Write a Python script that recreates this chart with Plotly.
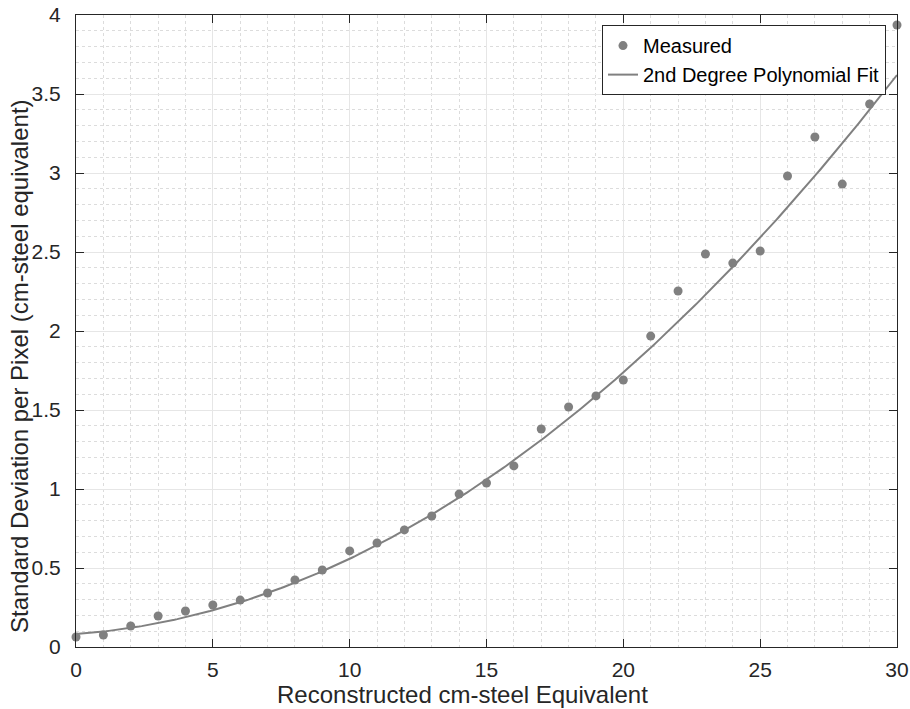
import numpy as np
import plotly.graph_objects as go

x_measured = list(range(0, 31))
y_measured = [0.063, 0.076, 0.133, 0.196, 0.228, 0.266, 0.297, 0.342, 0.424, 0.487,
              0.608, 0.658, 0.741, 0.829, 0.968, 1.038, 1.146, 1.380, 1.519, 1.589,
              1.690, 1.968, 2.253, 2.487, 2.430, 2.506, 2.981, 3.228, 2.930, 3.437, 3.937]

# 2nd degree polynomial fit coefficients (a*x^2 + b*x + c), as shown in the figure
fit_coefs = [0.003516, 0.01246, 0.082]
x_fit = np.linspace(0, 30, 301)
y_fit = np.polyval(fit_coefs, x_fit)

x_title = "Reconstructed cm-steel Equivalent"
y_title = "Standard Deviation per Pixel (cm-steel equivalent)"

FONT = "Liberation Sans, Arial, Helvetica, sans-serif"
gray = "#808080"
dark = "#262626"

fig = go.Figure()
fig.add_trace(go.Scatter(x=x_measured, y=y_measured, mode="markers", name="Measured",
                         marker=dict(color=gray, size=9), cliponaxis=False))
fig.add_trace(go.Scatter(x=x_fit, y=y_fit, mode="lines", name="2nd Degree Polynomial Fit",
                         line=dict(color=gray, width=2)))

axis_common = dict(
    showline=True, linecolor=dark, linewidth=1, mirror="ticks",
    ticks="inside", ticklen=8, tickcolor=dark,
    showgrid=True, gridcolor="#e6e6e6", gridwidth=1,
    zeroline=False, automargin=False,
    tickfont=dict(family=FONT, size=21, color=dark),
)

fig.update_xaxes(range=[0, 30], dtick=5, tick0=0, ticklabelstandoff=4,
                 minor=dict(dtick=1, showgrid=True, gridcolor="#dcdcdc", griddash="dot", ticks=""),
                 **axis_common)
fig.update_yaxes(range=[0, 4], dtick=0.5, tick0=0, ticklabelstandoff=10,
                 minor=dict(dtick=0.1, showgrid=True, gridcolor="#dcdcdc", griddash="dot", ticks=""),
                 **axis_common)

fig.add_annotation(text=x_title, xref="paper", yref="paper", x=0.4708, y=-0.0744,
                   xanchor="center", yanchor="middle", showarrow=False,
                   font=dict(family=FONT, size=24, color=dark))
fig.add_annotation(text=y_title, xref="paper", yref="paper", x=-0.0694, y=0.4446,
                   xanchor="center", yanchor="middle", showarrow=False, textangle=-90,
                   font=dict(family=FONT, size=24, color=dark))

fig.update_layout(
    width=910, height=709,
    margin=dict(l=76, r=13, t=15, b=62),
    plot_bgcolor="white", paper_bgcolor="white",
    showlegend=True,
    legend=dict(x=0.9866, y=0.984, xanchor="right", yanchor="top",
                bgcolor="white", bordercolor=dark, borderwidth=1,
                font=dict(family=FONT, size=20, color="#000000"),
                tracegroupgap=0, itemwidth=30),
)

fig.write_html("out.html")
